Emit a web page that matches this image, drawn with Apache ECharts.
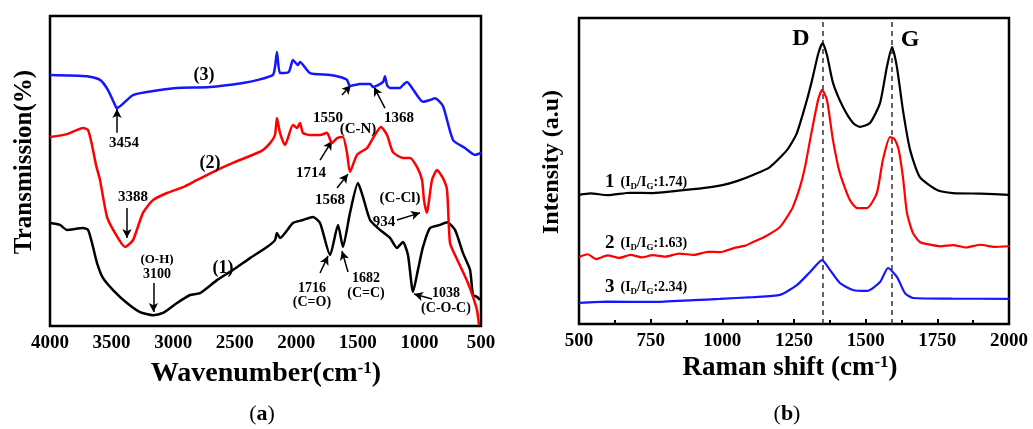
<!DOCTYPE html>
<html><head><meta charset="utf-8">
<script src="https://cdn.jsdelivr.net/npm/echarts@6/dist/echarts.min.js"></script>
<style>html,body{margin:0;padding:0;background:#fff}#c{width:1033px;height:429px}</style>
</head><body><div id="c"></div>
<script>
// ---- FTIR (a): [wavenumber, transmission (arb.)]
const ftir1 = [[4000,33.2],[3919,32.6],[3862,31.0],[3732,31.6],[3691,31.0],[3659,26.8],[3618,20.3],[3570,15.5],[3488,11.6],[3375,7.4],[3269,4.5],[3164,3.5],[3082,4.2],[2969,7.4],[2863,10.0],[2782,10.6],[2644,14.8],[2514,18.1],[2376,21.9],[2238,25.5],[2173,27.7],[2157,30.0],[2132,28.4],[2027,33.2],[1946,34.2],[1864,35.2],[1807,33.2],[1726,22.9],[1661,32.6],[1621,25.5],[1564,36.5],[1499,46.1],[1458,41.6],[1401,34.2],[1320,31.0],[1239,28.4],[1182,25.2],[1134,27.1],[1093,22.9],[1052,11.0],[1012,18.1],[971,25.5],[914,31.6],[833,32.6],[776,33.5],[711,31.0],[646,23.5],[589,18.1],[565,10.0],[533,9.4],[508,8.4]];
const ftir2 = [[4000,61.0],[3862,61.9],[3732,63.9],[3691,63.2],[3659,58.4],[3626,51.9],[3594,47.1],[3537,35.2],[3472,30.0],[3391,25.5],[3326,27.7],[3245,36.5],[3164,40.6],[3050,42.9],[2920,44.8],[2806,47.1],[2644,50.3],[2514,52.6],[2319,55.8],[2270,56.8],[2213,59.0],[2173,61.6],[2157,67.1],[2132,62.3],[2092,58.4],[2027,64.8],[1994,63.9],[1970,65.5],[1946,62.3],[1889,61.6],[1807,61.6],[1751,62.3],[1710,59.0],[1669,60.6],[1621,61.0],[1588,55.8],[1564,49.7],[1507,55.2],[1426,57.4],[1377,60.6],[1312,64.2],[1263,61.6],[1215,56.1],[1134,54.2],[1077,54.2],[1020,51.3],[979,47.1],[963,40.6],[940,36.5],[898,47.1],[857,50.3],[809,47.7],[776,43.9],[752,26.8],[711,22.9],[654,18.1],[606,13.9],[565,9.4],[533,5.2],[516,0.3]];
const ftir3 = [[4000,81.0],[3700,80.6],[3594,79.4],[3529,76.1],[3464,70.6],[3456,70.3],[3326,74.5],[3107,76.1],[2969,76.8],[2701,77.1],[2433,78.4],[2311,79.4],[2190,81.0],[2173,83.5],[2157,88.4],[2132,81.6],[2060,82.0],[2027,85.8],[1986,84.2],[1970,85.2],[1889,81.6],[1726,81.0],[1645,80.3],[1588,79.4],[1564,77.4],[1483,78.1],[1401,78.1],[1377,77.1],[1296,78.7],[1280,80.6],[1263,77.7],[1239,76.8],[1158,76.8],[1134,77.7],[1101,78.7],[1060,76.8],[971,72.3],[914,72.9],[874,73.5],[809,71.0],[727,60.0],[630,57.4],[549,55.2],[500,55.8]];
// ---- Raman (b): [Raman shift, intensity (arb.)]
const ram1 = [[500,42.2],[540,42.7],[600,42.1],[680,42.9],[758,42.8],[840,43.5],[932,44.4],[1000,45.4],[1051,46.7],[1107,48.7],[1166,51.3],[1226,56.9],[1260,62.4],[1295,73.2],[1313,79.7],[1335,88.5],[1350,91.8],[1365,87.9],[1386,78.8],[1421,70.9],[1456,65.7],[1480,64.4],[1515,65.7],[1550,72.2],[1574,84.0],[1592,90.5],[1609,84.0],[1630,69.9],[1655,56.9],[1689,48.0],[1749,43.8],[1805,42.8],[1900,42.6],[2000,42.2]];
const ram2 = [[500,21.9],[530,22.8],[560,21.2],[600,22.4],[640,21.6],[680,22.6],[720,21.8],[758,22.5],[800,22.0],[850,23.0],[900,22.6],[950,23.6],[992,23.5],[1040,24.8],[1080,25.6],[1107,26.8],[1150,28.6],[1201,31.7],[1226,35.0],[1246,38.2],[1271,44.8],[1290,52.0],[1306,60.1],[1334,73.2],[1348,76.5],[1365,73.2],[1386,60.1],[1410,49.3],[1445,40.5],[1470,37.9],[1505,37.9],[1539,42.8],[1560,53.6],[1585,61.1],[1600,60.5],[1615,57.0],[1630,48.0],[1644,36.3],[1665,29.7],[1689,26.8],[1720,26.0],[1760,25.4],[1805,25.8],[1850,25.0],[1900,25.9],[1950,25.2],[2000,25.4]];
const ram3 = [[500,6.9],[600,7.3],[758,7.2],[900,7.8],[992,8.2],[1107,8.8],[1201,9.5],[1260,12.7],[1306,17.0],[1348,20.9],[1376,17.6],[1410,13.4],[1456,11.1],[1505,10.8],[1550,13.7],[1578,18.3],[1609,15.4],[1637,10.1],[1665,8.5],[1800,8.3],[2000,8.2]];
const bandLines = [1350, 1590];
// annotation arrows in data space: [from, to]
const arrowsA = [
  [[3456,62.3],[3456,70.0]], [[1629,74.5],[1556,77.7]], [[1280,70.3],[1369,77.1]],
  [[1807,53.5],[1710,59.7]], [[1669,44.5],[1580,49.0]], [[1182,34.2],[995,36.5]],
  [[3375,38.1],[3375,28.4]], [[3160,13.9],[3160,4.5]], [[1807,17.1],[1742,22.6]],
  [[1580,17.4],[1629,24.2]], [[898,8.7],[1044,10.3]]
];

const FONT = '"Liberation Serif","Times New Roman",serif';
const chart = echarts.init(document.getElementById('c'));

function txt(x, y, text, size, extra) {
  return Object.assign({
    type: 'text', x: x, y: y, z: 100,
    style: { text: text, font: 'bold ' + size + 'px ' + FONT, fill: '#000',
      align: 'center', verticalAlign: 'middle', textAlign: 'center', textVerticalAlign: 'middle' }
  }, extra || {});
}
function richTxt(x, y, text, rich, align) {
  const a = align || 'center';
  return {
    type: 'text', x: x, y: y, z: 100,
    style: { text: text, rich: rich, fill: '#000', fontFamily: FONT, fontWeight: 'bold',
      align: a, verticalAlign: 'middle', textAlign: a, textVerticalAlign: 'middle' }
  };
}
const supRich = (big, small) => ({
  m: { fontSize: big, fontWeight: 'bold', fontFamily: FONT, color: '#000' },
  u: { fontSize: small, fontWeight: 'bold', fontFamily: FONT, verticalAlign: 'top', color: '#000' }
});
const ratioRich = {
  n: { fontSize: 19, fontWeight: 'bold', fontFamily: FONT, color: '#000', padding: [0, 6, 0, 0] },
  p: { fontSize: 14, fontWeight: 'bold', fontFamily: FONT, color: '#000' },
  s: { fontSize: 9, fontWeight: 'bold', fontFamily: FONT, color: '#000', verticalAlign: 'bottom', padding: [6, 0, 0, 0] }
};
const ratioText = (n, r) => '{n|' + n + '}{p|(I}{s|D}{p|/I}{s|G}{p|:' + r + ')}';
const capRich = { r: { fontSize: 22, fontFamily: FONT, color: '#000' }, b: { fontSize: 22, fontWeight: 'bold', fontFamily: FONT, color: '#000' } };

const graphics = [
  richTxt(266, 374, '{m|Wavenumber(cm}{u|-1}{m|)}', supRich(28, 17)),
  richTxt(790, 368, '{m|Raman shift (cm}{u|-1}{m|)}', supRich(27, 17)),
  txt(25, 162, 'Transmission(%)', 25, { rotation: Math.PI / 2 }),
  txt(552, 162, 'Intensity (a.u)', 24, { rotation: Math.PI / 2 }),
  richTxt(262, 414, '{r|(}{b|a}{r|)}', capRich),
  richTxt(787, 414, '{r|(}{b|b}{r|)}', capRich),
  txt(204, 75, '(3)', 18), txt(210, 163, '(2)', 18), txt(223, 268, '(1)', 18),
  txt(124, 143, '3454', 15), txt(328, 118, '1550', 15), txt(399, 118, '1368', 15),
  txt(358, 129, '(C-N)', 15), txt(311, 173, '1714', 15), txt(330, 200, '1568', 15),
  txt(400, 198, '(C-Cl)', 15), txt(384, 222, '934', 15), txt(133, 197, '3388', 15),
  txt(157, 260, '(O-H)', 13), txt(157, 274, '3100', 14),
  txt(312, 288, '1716', 14), txt(312, 302, '(C=O)', 14),
  txt(366, 278, '1682', 14), txt(366, 293, '(C=C)', 14),
  txt(446, 293, '1038', 14), txt(446, 308, '(C-O-C)', 14),
  txt(801, 39, 'D', 24), txt(910, 40, 'G', 24),
  richTxt(605, 182, ratioText(1, '1.74'), ratioRich, 'left'),
  richTxt(605, 243, ratioText(2, '1.63'), ratioRich, 'left'),
  richTxt(605, 287, ratioText(3, '2.34'), ratioRich, 'left')
];

const lineSeries = (data, color, xi, w, extra) => Object.assign({
  type: 'line', data: data, xAxisIndex: xi, yAxisIndex: xi, showSymbol: false, symbol: 'none',
  smooth: 0.2, lineStyle: { color: color, width: w }, itemStyle: { color: color }, silent: true, z: 5
}, extra || {});
const plainNum = v => String(v);

chart.setOption({
  animation: false,
  backgroundColor: '#fff',
  grid: [
    { left: 50, top: 16, width: 431, height: 310, show: true, borderColor: '#000', borderWidth: 2.5, backgroundColor: 'transparent' },
    { left: 579, top: 18, width: 430, height: 306, show: true, borderColor: '#000', borderWidth: 2.5, backgroundColor: 'transparent' }
  ],
  xAxis: [
    { type: 'value', gridIndex: 0, min: 500, max: 4000, interval: 500, inverse: true,
      axisLine: { show: false }, axisTick: { show: false }, splitLine: { show: false },
      axisLabel: { color: '#000', fontSize: 19, fontWeight: 'bold', fontFamily: FONT, margin: 8, formatter: plainNum } },
    { type: 'value', gridIndex: 1, min: 500, max: 2000, interval: 250,
      axisLine: { show: false }, splitLine: { show: false },
      axisTick: { show: true, inside: true, length: 5, lineStyle: { color: '#000', width: 2 } },
      minorTick: { show: true, splitNumber: 2, length: 4, lineStyle: { color: '#000', width: 2 } },
      axisLabel: { color: '#000', fontSize: 19, fontWeight: 'bold', fontFamily: FONT, margin: 8, formatter: plainNum } }
  ],
  yAxis: [
    { type: 'value', gridIndex: 0, min: 0, max: 100, show: false },
    { type: 'value', gridIndex: 1, min: 0, max: 100, show: false }
  ],
  graphic: graphics,
  series: [
    lineSeries(ftir1, '#000000', 0, 2.5, {
      markLine: { silent: true, symbol: ['none', 'arrow'], symbolSize: [7, 9], animation: false,
        lineStyle: { color: '#000', width: 1.5, type: 'solid' }, label: { show: false },
        data: arrowsA.map(a => [{ coord: a[0] }, { coord: a[1] }]) }
    }),
    lineSeries(ftir3, '#1515ff', 0, 2.5),
    lineSeries(ftir2, '#ff0000', 0, 2.5),
    lineSeries(ram1, '#000000', 1, 2.2, {
      markLine: { silent: true, symbol: ['none', 'none'], animation: false,
        lineStyle: { color: '#333', width: 1.5, type: [5, 4] }, label: { show: false },
        data: bandLines.map(v => ({ xAxis: v })) }
    }),
    lineSeries(ram2, '#ff0000', 1, 2.2),
    lineSeries(ram3, '#1515ff', 1, 2.2)
  ]
});
</script></body></html>
